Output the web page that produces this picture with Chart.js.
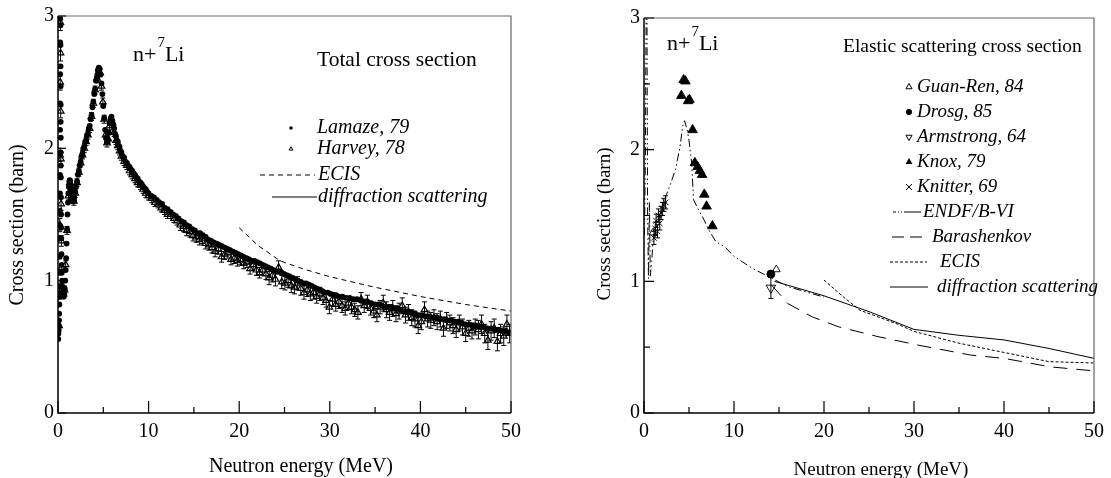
<!DOCTYPE html>
<html>
<head>
<meta charset="utf-8">
<script src="https://cdn.jsdelivr.net/npm/chart.js@4.4.1/dist/chart.umd.min.js"></script>
<style>
  body { margin: 0; background: #fff; }
  #wrap { position: relative; width: 1111px; height: 478px; }
  canvas { position: absolute; top: 0; }
</style>
</head>
<body>
<div id="wrap">
  <canvas id="total" width="560" height="478" style="left:0"></canvas>
  <canvas id="elastic" width="551" height="478" style="left:560px"></canvas>
</div>
<script>
const SERIF = "'Liberation Serif', 'Times New Roman', serif";

// Axis ticks
const xMajor = [0, 10, 20, 30, 40, 50];
const xMinor = [5, 15, 25, 35, 45];
const yMajor = [0, 1, 2, 3];
const yMinorElastic = [0.5, 1.5, 2.5];

// ---- Total cross section (left) ----
// Lamaze, 79  [E (MeV), sigma (b)]
const lamaze = [
  [0.03,0.56],[0.05,0.6],[0.07,0.63],[0.09,0.66],[0.11,0.7],[0.13,0.75],[0.15,0.82],[0.16,0.88],[0.17,0.96],[0.18,1.06],
  [0.19,1.18],[0.2,1.32],[0.205,1.42],[0.21,1.53],[0.215,1.66],[0.22,1.8],[0.225,1.96],[0.23,2.14],[0.235,2.34],[0.24,2.56],
  [0.245,2.8],[0.25,2.98],[0.255,3.1],[0.26,3.2],[0.265,3.15],
  [0.27,3.05],[0.275,2.93],[0.28,2.78],[0.285,2.62],[0.29,2.47],[0.295,2.33],[0.3,2.2],[0.305,2.08],[0.31,1.97],[0.315,1.87],
  [0.32,1.78],[0.33,1.63],[0.34,1.5],[0.35,1.4],[0.36,1.32],[0.38,1.2],[0.4,1.12],[0.42,1.06],[0.45,1.0],[0.48,0.95],
  [0.52,0.91],[0.56,0.89],[0.6,0.88],[0.65,0.88],[0.7,0.9],[0.75,0.94],[0.8,1.0],[0.85,1.08],[0.9,1.17],[0.95,1.28],
  [1.0,1.39],[1.05,1.5],[1.1,1.59],[1.15,1.66],[1.2,1.71],[1.25,1.75],[1.3,1.76],[1.35,1.75],[1.4,1.72],[1.45,1.69],
  [1.5,1.66],[1.55,1.63],[1.6,1.61],[1.65,1.6],[1.7,1.6],[1.75,1.61],[1.8,1.63],[1.9,1.67],[2.0,1.71],
  [2.1,1.75],[2.2,1.8],[2.3,1.83],[2.4,1.87],[2.5,1.9],[2.6,1.94],[2.7,1.96],[2.8,2.0],[2.9,2.01],[3.0,2.05],
  [3.1,2.06],[3.2,2.1],[3.3,2.11],[3.4,2.15],[3.5,2.17],[3.6,2.22],[3.7,2.25],[3.8,2.31],[3.9,2.35],[4.0,2.41],
  [4.1,2.45],[4.2,2.51],[4.3,2.54],[4.4,2.59],[4.5,2.61],[4.6,2.6],[4.7,2.56],[4.8,2.49],[4.9,2.41],[5.0,2.32],
  [5.1,2.23],[5.2,2.14],[5.3,2.08],[5.4,2.05],[5.5,2.06],[5.6,2.12],[5.7,2.19],[5.8,2.22],[5.9,2.24],[6.0,2.21],
  [6.1,2.18],[6.2,2.15],[6.3,2.11],[6.4,2.09],[6.5,2.06],[6.6,2.05],[6.7,2.02],[6.8,2.01],[6.9,1.98],[7.0,1.97],
  [7.15,1.94],[7.3,1.93],[7.45,1.9],[7.6,1.89],[7.75,1.87],[7.9,1.86],[8.05,1.84],[8.2,1.83],[8.35,1.81],[8.5,1.8],
  [8.65,1.78],[8.8,1.77],[8.95,1.75],[9.1,1.74],[9.25,1.73],[9.4,1.71],[9.55,1.7],[9.7,1.69],[9.85,1.67],[10.0,1.66],
  [10.3,1.64],[10.6,1.63],[10.9,1.61],[11.2,1.59],[11.5,1.58],[11.8,1.55],[12.1,1.54],[12.4,1.52],[12.7,1.5],[13.0,1.49],
  [13.3,1.47],[13.6,1.45],[13.9,1.44],[14.2,1.42],[14.5,1.41],[14.8,1.39],[15.1,1.38],[15.4,1.36],[15.7,1.36],[16.0,1.34],
  [16.3,1.33],[16.6,1.31],[16.9,1.3],[17.2,1.29],[17.5,1.28],[17.8,1.27],[18.1,1.26],[18.4,1.25],[18.7,1.24],[19.0,1.23],
  [19.3,1.22],[19.6,1.21],[19.9,1.2],[20.2,1.19],[20.5,1.18],[20.8,1.17],[21.1,1.16],[21.4,1.15],[21.7,1.15],[22.0,1.14],
  [22.3,1.13],[22.6,1.12],[22.9,1.11],[23.2,1.1],[23.5,1.09],[23.8,1.08],[24.1,1.07],[24.4,1.07],[24.7,1.06],[25.0,1.05],
  [25.3,1.04],[25.6,1.03],[25.9,1.02],[26.2,1.01],[26.5,1.0],[26.8,0.99],[27.1,0.98],[27.4,0.98],[27.7,0.97],[28.0,0.96],
  [28.3,0.95],[28.6,0.94],[28.9,0.93],[29.2,0.92],[29.5,0.91],[29.8,0.91],[30.1,0.9],[30.4,0.89],[30.7,0.89],[31.0,0.88],
  [31.4,0.88],[31.8,0.87],[32.2,0.87],[32.6,0.86],[33.0,0.86],[33.4,0.85],[33.8,0.84],[34.2,0.84],[34.6,0.83],[35.0,0.82],
  [35.4,0.82],[35.8,0.81],[36.2,0.8],[36.6,0.8],[37.0,0.79],[37.4,0.79],[37.8,0.78],[38.2,0.77],[38.6,0.77],[39.0,0.76],
  [39.4,0.75],[39.8,0.74],[40.2,0.74],[40.6,0.73],[41.0,0.73],[41.4,0.72],[41.8,0.72],[42.2,0.71],[42.6,0.71],[43.0,0.7],
  [43.4,0.7],[43.8,0.69],[44.2,0.69],[44.6,0.68],[45.0,0.67],[45.4,0.67],[45.8,0.66],[46.2,0.66],[46.6,0.65],[47.0,0.65],
  [47.4,0.64],[47.8,0.64],[48.2,0.63],[48.6,0.63],[49.0,0.62],[49.4,0.62],[49.8,0.61]
];

// Harvey, 78  [E (MeV), sigma (b), error (b)]
const harvey = [
  [0.12,0.66,0.04],[0.16,0.9,0.04],[0.2,1.42,0.05],[0.22,1.95,0.05],[0.24,2.5,0.06],[0.26,2.95,0.06],[0.28,2.72,0.06],
  [0.3,2.28,0.05],[0.32,1.92,0.05],[0.34,1.58,0.05],[0.37,1.3,0.04],[0.42,1.1,0.03],[0.5,0.96,0.03],[0.6,0.9,0.03],
  [0.72,0.93,0.03],[0.85,1.12,0.03],[1.0,1.38,0.03],[1.15,1.64,0.03],[1.3,1.74,0.03],[1.45,1.7,0.03],[1.6,1.62,0.03],
  [1.75,1.6,0.03],[1.9,1.66,0.03],[2.1,1.74,0.03],[2.3,1.82,0.03],[2.5,1.89,0.03],[2.7,1.95,0.03],[2.9,2.0,0.03],
  [3.1,2.05,0.03],[3.3,2.1,0.03],[3.5,2.15,0.03],[3.7,2.24,0.03],[3.9,2.34,0.03],[4.1,2.44,0.03],[4.3,2.53,0.03],
  [4.5,2.58,0.03],[4.65,2.57,0.03],[4.8,2.47,0.03],[4.95,2.35,0.03],[5.1,2.22,0.03],[5.25,2.1,0.03],[5.4,2.04,0.03],
  [5.55,2.07,0.03],[5.7,2.17,0.03],[5.85,2.21,0.03],[6.0,2.19,0.03],[6.2,2.12,0.03],[6.4,2.06,0.03],[6.6,2.02,0.03],
  [6.8,1.98,0.03],[7.0,1.94,0.03],[7.3,1.9,0.03],[7.6,1.87,0.03],[7.9,1.83,0.03],[8.2,1.8,0.03],[8.5,1.77,0.03],
  [8.8,1.74,0.03],[9.1,1.72,0.03],[9.4,1.69,0.03],[9.7,1.66,0.03],[10.0,1.64,0.03],
  [10.35,1.62,0.03],[10.7,1.59,0.03],[11.05,1.58,0.03],[11.4,1.55,0.03],[11.75,1.53,0.03],[12.1,1.5,0.03],[12.45,1.5,0.03],
  [12.8,1.47,0.03],[13.15,1.45,0.03],[13.5,1.42,0.04],[13.85,1.41,0.04],[14.2,1.38,0.04],[14.55,1.37,0.04],[14.9,1.34,0.04],
  [15.25,1.33,0.04],[15.6,1.31,0.04],[15.95,1.32,0.04],[16.3,1.28,0.04],[16.65,1.27,0.04],[17.0,1.25,0.04],[17.35,1.22,0.04],
  [17.7,1.24,0.04],[18.05,1.18,0.04],[18.4,1.2,0.04],[18.75,1.21,0.04],[19.1,1.16,0.04],[19.45,1.17,0.04],[19.8,1.15,0.04],
  [20.15,1.16,0.04],[20.5,1.13,0.04],[20.85,1.14,0.04],[21.2,1.09,0.04],[21.55,1.12,0.04],[21.9,1.08,0.04],[22.25,1.06,0.04],
  [22.6,1.08,0.04],[22.95,1.05,0.04],[23.3,1.02,0.05],[23.65,1.04,0.05],[24.0,1.01,0.05],[24.35,1.1,0.05],[24.7,0.99,0.05],
  [25.05,0.98,0.05],[25.4,1.0,0.05],[25.75,0.96,0.05],[26.1,0.95,0.05],[26.45,0.98,0.05],[26.8,0.94,0.05],[27.15,0.91,0.05],
  [27.5,0.93,0.05],[27.85,0.9,0.05],[28.2,0.91,0.05],[28.55,0.88,0.05],[28.9,0.9,0.05],[29.25,0.87,0.05],[29.6,0.85,0.05],
  [29.95,0.8,0.05],[30.3,0.86,0.05],[30.65,0.82,0.05],[31.0,0.84,0.05],[31.35,0.81,0.05],[31.7,0.79,0.05],[32.05,0.83,0.05],
  [32.4,0.8,0.05],[32.75,0.78,0.05],[33.1,0.76,0.05],[33.45,0.86,0.05],[33.8,0.81,0.05],[34.15,0.84,0.05],[34.5,0.79,0.05],
  [34.85,0.77,0.05],[35.2,0.74,0.05],[35.55,0.8,0.05],[35.9,0.83,0.06],[36.25,0.78,0.06],[36.6,0.76,0.06],[36.95,0.79,0.06],
  [37.3,0.75,0.06],[37.65,0.77,0.06],[38.0,0.81,0.06],[38.35,0.74,0.06],[38.7,0.76,0.06],[39.05,0.72,0.06],[39.4,0.71,0.06],
  [39.75,0.66,0.06],[40.1,0.69,0.06],[40.45,0.78,0.06],[40.8,0.71,0.06],[41.15,0.7,0.06],[41.5,0.72,0.06],[41.85,0.69,0.06],
  [42.2,0.71,0.06],[42.55,0.64,0.06],[42.9,0.7,0.06],[43.25,0.68,0.06],[43.6,0.66,0.06],[43.95,0.63,0.06],[44.3,0.68,0.06],
  [44.65,0.65,0.06],[45.0,0.6,0.06],[45.35,0.64,0.06],[45.7,0.62,0.06],[46.05,0.65,0.06],[46.4,0.63,0.07],[46.75,0.67,0.07],
  [47.1,0.6,0.07],[47.45,0.55,0.07],[47.8,0.62,0.07],[48.15,0.64,0.07],[48.5,0.54,0.07],[48.85,0.6,0.07],[49.2,0.58,0.07],
  [49.55,0.67,0.07],[49.85,0.6,0.07]
];

const ecisTotal = [[20,1.4],[22,1.27],[24.5,1.15],[27,1.09],[30,1.03],[35,0.95],[40,0.88],[45,0.82],[50,0.77]];
const diffTotal = [[8,1.85],[10,1.66],[12,1.54],[15,1.38],[20,1.2],[25,1.05],[30,0.9],[35,0.82],[40,0.74],[45,0.67],[50,0.62]];

// ---- Elastic scattering cross section (right) ----
const guanRen = [[1.0,1.37],[14.7,1.09]];
const drosg = [[14.1,1.055]];
const armstrong = [[14.1,0.95,0.08]];
const knox = [[4.15,2.41],[4.4,2.53],[4.6,2.52],[4.9,2.37],[5.05,2.38],[5.4,2.15],[5.65,1.9],[5.95,1.87],[6.2,1.84],[6.45,1.81],[6.7,1.66],[6.95,1.57],[7.6,1.42]];
const knitter = [[1.1,1.33,0.05],[1.25,1.4,0.05],[1.35,1.46,0.05],[1.5,1.38,0.05],[1.6,1.5,0.05],[1.75,1.44,0.05],[1.9,1.52,0.05],[2.05,1.55,0.05],[2.2,1.58,0.05],[2.4,1.6,0.05]];
const endf = [[0.05,1.35],[0.15,1.9],[0.25,3.2],[0.32,3.2],[0.4,1.5],[0.5,1.02],[0.6,1.6],[0.7,1.04],[0.85,1.15],[1.0,1.3],[1.5,1.45],[2.0,1.56],[2.5,1.66],[3.0,1.75],[3.5,1.85],[4.0,2.02],[4.3,2.18],[4.5,2.22],[4.8,2.15],[5.0,2.07],[5.3,1.9],[5.5,1.62],[6.0,1.55],[6.5,1.49],[7.2,1.39],[8.0,1.3],[9.0,1.26],[10.0,1.19],[12.0,1.1],[14.0,1.03],[16.0,0.96],[18.0,0.92],[20.0,0.88]];
const barashenkov = [[14.2,0.97],[16,0.83],[18.7,0.73],[21.6,0.655],[26,0.58],[30.5,0.515],[36.3,0.44],[40,0.415],[45.2,0.35],[50,0.32]];
const ecisElastic = [[20,1.01],[22,0.89],[24,0.78],[26,0.73],[28,0.68],[30,0.62],[35,0.53],[40,0.46],[45,0.39],[50,0.38]];
const diffElastic = [[14.5,1.0],[20,0.89],[25,0.77],[30,0.635],[35,0.59],[40,0.555],[45,0.49],[50,0.415]];

const pts = arr => arr.map(p => ({ x: p[0], y: p[1] }));
const errs = arr => arr.map(p => p[2]);

function marker(style, r, fill, extra) {
  return Object.assign({
    showLine: false, pointStyle: style, pointRadius: r,
    pointBackgroundColor: fill ? '#000' : 'rgba(0,0,0,0)',
    pointBorderColor: '#000', pointBorderWidth: 0.9, clip: 0
  }, extra || {});
}
function line(dash, width) {
  return { showLine: true, pointRadius: 0, borderColor: '#000', borderWidth: width || 1, borderDash: dash, clip: 0, tension: 0 };
}

// error bars for datasets that carry an `errors` array
const errorBars = {
  id: 'errorBars',
  afterDatasetsDraw(chart) {
    const { ctx, chartArea: a, scales: { x, y } } = chart;
    ctx.save();
    ctx.beginPath(); ctx.rect(a.left, a.top, a.right - a.left, a.bottom - a.top); ctx.clip();
    ctx.strokeStyle = '#000'; ctx.lineWidth = 1;
    chart.data.datasets.forEach(ds => {
      if (!ds.errors) return;
      ds.data.forEach((p, i) => {
        const e = ds.errors[i];
        const px = x.getPixelForValue(p.x);
        const y1 = y.getPixelForValue(p.y - e), y2 = y.getPixelForValue(p.y + e);
        ctx.beginPath();
        ctx.moveTo(px, y1); ctx.lineTo(px, y2);
        ctx.moveTo(px - 2.5, y1); ctx.lineTo(px + 2.5, y1);
        ctx.moveTo(px - 2.5, y2); ctx.lineTo(px + 2.5, y2);
        ctx.stroke();
      });
    });
    ctx.restore();
  }
};

// box frame and inward ticks
function frame(yMinor, yLen) {
  return {
    id: 'frame',
    afterDatasetsDraw(chart) {
      const { ctx, chartArea: a, scales: { x, y } } = chart;
      ctx.save();
      ctx.strokeStyle = '#666'; ctx.lineWidth = 1.2;
      ctx.beginPath();
      ctx.moveTo(a.left, a.top); ctx.lineTo(a.right, a.top); ctx.lineTo(a.right, a.bottom);
      ctx.stroke();
      ctx.strokeStyle = '#000'; ctx.lineWidth = 1.5;
      ctx.beginPath();
      ctx.moveTo(a.left, a.top); ctx.lineTo(a.left, a.bottom); ctx.lineTo(a.right, a.bottom);
      ctx.stroke();
      ctx.lineWidth = 1.2;
      ctx.beginPath();
      xMajor.forEach(v => { const p = x.getPixelForValue(v); ctx.moveTo(p, a.bottom); ctx.lineTo(p, a.bottom - 12); });
      xMinor.forEach(v => { const p = x.getPixelForValue(v); ctx.moveTo(p, a.bottom); ctx.lineTo(p, a.bottom - 6); });
      yMajor.forEach(v => { const p = y.getPixelForValue(v); ctx.moveTo(a.left, p); ctx.lineTo(a.left + yLen, p); });
      yMinor.forEach(v => { const p = y.getPixelForValue(v); ctx.moveTo(a.left, p); ctx.lineTo(a.left + 6, p); });
      ctx.stroke();
      ctx.restore();
    }
  };
}

function drawMark(ctx, kind, x, y, r) {
  ctx.beginPath();
  if (kind === 'dot') {
    ctx.arc(x, y, r, 0, Math.PI * 2); ctx.fill();
  } else if (kind === 'tri' || kind === 'triFill') {
    ctx.moveTo(x, y - r); ctx.lineTo(x + r * 0.87, y + r * 0.5); ctx.lineTo(x - r * 0.87, y + r * 0.5); ctx.closePath();
    if (kind === 'tri') ctx.stroke(); else ctx.fill();
  } else if (kind === 'triDown') {
    ctx.moveTo(x, y + r); ctx.lineTo(x + r * 0.87, y - r * 0.5); ctx.lineTo(x - r * 0.87, y - r * 0.5); ctx.closePath(); ctx.stroke();
  } else if (kind === 'cross') {
    ctx.moveTo(x - r, y - r); ctx.lineTo(x + r, y + r); ctx.moveTo(x + r, y - r); ctx.lineTo(x - r, y + r); ctx.stroke();
  }
}

// titles, labels and legend
function texts(cfg) {
  return {
    id: 'texts',
    afterDraw(chart) {
      const ctx = chart.ctx;
      ctx.save();
      ctx.fillStyle = '#000'; ctx.strokeStyle = '#000';
      ctx.textBaseline = 'middle'; ctx.textAlign = 'left';
      // reaction label n+7Li
      let [nx, ny] = cfg.reaction;
      ctx.font = `22px ${SERIF}`;
      ctx.fillText('n+', nx, ny); nx += ctx.measureText('n+').width + 1;
      ctx.font = `15px ${SERIF}`;
      ctx.fillText('7', nx, ny - 12); nx += ctx.measureText('7').width;
      ctx.font = `22px ${SERIF}`;
      ctx.fillText('Li', nx, ny);
      // panel title
      ctx.font = `${cfg.titleSize}px ${SERIF}`;
      ctx.fillText(cfg.title, cfg.titlePos[0], cfg.titlePos[1]);
      // legend
      ctx.font = `italic ${cfg.legendSize}px ${SERIF}`;
      cfg.legend.forEach(it => {
        ctx.lineWidth = 1;
        if (it.mark) {
          drawMark(ctx, it.mark, it.mx, it.y, it.r);
        } else {
          ctx.setLineDash(it.dash);
          ctx.beginPath(); ctx.moveTo(it.x1, it.y); ctx.lineTo(it.x2, it.y); ctx.stroke();
          ctx.setLineDash([]);
        }
        ctx.fillText(it.label, it.tx, it.y);
      });
      // axis titles
      ctx.font = `${cfg.axisSize}px ${SERIF}`;
      ctx.textAlign = 'center';
      ctx.fillText('Neutron energy (MeV)', cfg.xTitle[0], cfg.xTitle[1]);
      ctx.translate(cfg.yTitle[0], cfg.yTitle[1]);
      ctx.rotate(-Math.PI / 2);
      ctx.fillText('Cross section (barn)', 0, 0);
      ctx.restore();
    }
  };
}

function makeChart(id, datasets, pad, yWidth, tickSize, plugins) {
  return new Chart(document.getElementById(id), {
    type: 'scatter',
    data: { datasets },
    options: {
      responsive: false, animation: false, devicePixelRatio: 1,
      layout: { padding: pad },
      plugins: { legend: { display: false }, tooltip: { enabled: false } },
      scales: {
        x: {
          type: 'linear', min: 0, max: 50,
          grid: { display: false, drawTicks: false }, border: { display: false },
          ticks: { stepSize: 10, color: '#000', padding: 7, maxRotation: 0, font: { family: SERIF, size: tickSize } },
          afterFit: s => { s.height = 65; }
        },
        y: {
          type: 'linear', min: 0, max: 3,
          grid: { display: false, drawTicks: false }, border: { display: false },
          ticks: { stepSize: 1, color: '#000', padding: 4, font: { family: SERIF, size: tickSize } },
          afterFit: s => { s.width = yWidth; }
        }
      }
    },
    plugins
  });
}

// Left panel: total cross section
makeChart('total', [
  Object.assign(marker('circle', 2.9, true), { data: pts(lamaze), pointBorderWidth: 0 }),
  Object.assign(marker('triangle', 3.8, false), { data: pts(harvey), errors: errs(harvey), pointBorderWidth: 1.2 }),
  Object.assign(line([], 1), { data: pts(diffTotal) }),
  Object.assign(line([5, 4], 1), { data: pts(ecisTotal) })
], { left: 0, right: 49, top: 16, bottom: 0 }, 58, 20, [errorBars, frame([], 8), texts({
  reaction: [133, 55],
  title: 'Total cross section', titleSize: 21.5, titlePos: [317, 60],
  legendSize: 20,
  legend: [
    { mark: 'dot', mx: 291, r: 1.8, y: 128, tx: 317, label: 'Lamaze, 79' },
    { mark: 'tri', mx: 291, r: 2.2, y: 149, tx: 317, label: 'Harvey, 78' },
    { dash: [5, 4], x1: 260, x2: 315, y: 175, tx: 318, label: 'ECIS' },
    { dash: [], x1: 272, x2: 317, y: 197, tx: 318, label: 'diffraction scattering' }
  ],
  axisSize: 20, xTitle: [301, 467], yTitle: [18, 225]
})]);

// Right panel: elastic scattering cross section
makeChart('elastic', [
  Object.assign(marker('triangle', 5.5, true), { data: pts(knox) }),
  Object.assign(marker('crossRot', 4, false), { data: pts(knitter), errors: errs(knitter) }),
  Object.assign(marker('circle', 4, true), { data: pts(drosg) }),
  Object.assign(marker('triangle', 4.5, false), { data: pts(guanRen) }),
  Object.assign(marker('triangle', 5.5, false), { data: pts(armstrong), errors: errs(armstrong), rotation: 180 }),
  Object.assign(line([], 1), { data: pts(diffElastic) }),
  Object.assign(line([3, 2], 1), { data: pts(ecisElastic) }),
  Object.assign(line([14, 9], 1), { data: pts(barashenkov) }),
  Object.assign(line([8, 3, 1.5, 3, 1.5, 3], 1), { data: pts(endf) })
], { left: 0, right: 14, top: 18, bottom: 0 }, 84, 20, [errorBars, frame(yMinorElastic, 10), texts({
  reaction: [107, 44],
  title: 'Elastic scattering cross section', titleSize: 19.5, titlePos: [283, 47],
  legendSize: 19,
  legend: [
    { mark: 'tri', mx: 349, r: 3.5, y: 87, tx: 357, label: 'Guan-Ren, 84' },
    { mark: 'dot', mx: 349, r: 3, y: 112, tx: 357, label: 'Drosg, 85' },
    { mark: 'triDown', mx: 349, r: 3.5, y: 137, tx: 357, label: 'Armstrong, 64' },
    { mark: 'triFill', mx: 349, r: 4, y: 162, tx: 357, label: 'Knox, 79' },
    { mark: 'cross', mx: 349, r: 3, y: 187, tx: 357, label: 'Knitter, 69' },
    { dash: [3, 2, 1, 2, 1, 2, 14, 0], x1: 333, x2: 362, y: 212, tx: 363, label: 'ENDF/B-VI' },
    { dash: [12, 6], x1: 332, x2: 367, y: 237, tx: 372, label: 'Barashenkov' },
    { dash: [3, 2], x1: 330, x2: 367, y: 262, tx: 380, label: 'ECIS' },
    { dash: [], x1: 330, x2: 368, y: 287, tx: 377, label: 'diffraction scattering' }
  ],
  axisSize: 19, xTitle: [321, 470], yTitle: [45, 224]
})]);
</script>
</body>
</html>
